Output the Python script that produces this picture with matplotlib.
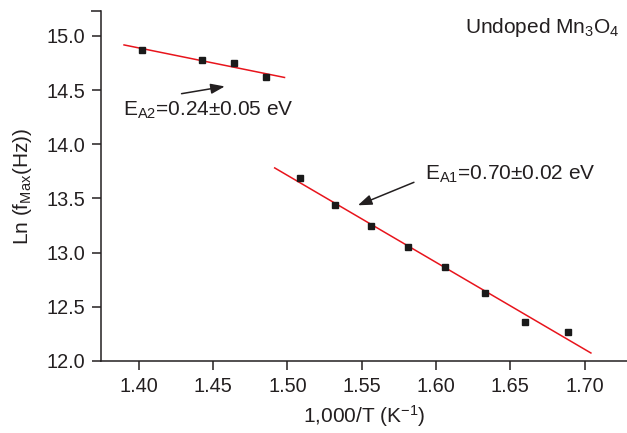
import numpy as np
import matplotlib
matplotlib.use("Agg")
import matplotlib.pyplot as plt

# Data
x_high = [1.4018, 1.4428, 1.4640, 1.4858]
y_high = [14.870, 14.778, 14.750, 14.618]
x_low = [1.5087, 1.5322, 1.5559, 1.5810, 1.6063, 1.6330, 1.6600, 1.6885]
y_low = [13.690, 13.437, 13.246, 13.048, 12.870, 12.632, 12.364, 12.271]
fit_high_range = [1.390, 1.498]
fit_low_range = [1.4914, 1.7042]
xticks = [1.40, 1.45, 1.50, 1.55, 1.60, 1.65, 1.70]
yticks = [12.0, 12.5, 13.0, 13.5, 14.0, 14.5, 15.0]

txt = '#231f20'
red = '#e8141c'
plt.rcParams['font.family'] = ['Liberation Sans', 'DejaVu Sans']
plt.rcParams['mathtext.fontset'] = 'custom'
plt.rcParams['mathtext.rm'] = 'Liberation Sans'
plt.rcParams['mathtext.it'] = 'Liberation Sans'
plt.rcParams['mathtext.default'] = 'regular'

fig = plt.figure(figsize=(6.27, 4.33), dpi=100)
ax = fig.add_axes([101/627, 72/433, 526/627, 350/433])

ax.set_xlim(1.3745, 1.7285)
ax.set_ylim(12.0, 15.23)

for xs, ys, rng in [(x_high, y_high, fit_high_range), (x_low, y_low, fit_low_range)]:
    p = np.polyfit(xs, ys, 1)
    xr = np.array(rng)
    ax.plot(xr, np.polyval(p, xr), color=red, lw=1.1, zorder=2)
    ax.plot(xs, ys, 's', color='#1a1a1a', ms=4.5, zorder=3)

ax.set_xticks(xticks)
ax.set_xticklabels([f"{v:.2f}" for v in xticks])
ax.set_yticks(yticks)
ax.set_yticklabels([f"{v:.1f}" for v in yticks])
ax.set_yticks([15.23], minor=True)
ax.tick_params(axis='y', which='minor', length=7, width=1.1, color=txt)
ax.tick_params(axis='both', which='major', direction='out', length=6.5, width=1.1,
               labelsize=14.3, colors=txt, pad=5)
for s in ['top', 'right']:
    ax.spines[s].set_visible(False)
for s in ['left', 'bottom']:
    ax.spines[s].set_linewidth(1.1)
    ax.spines[s].set_color(txt)

ax.set_xlabel('1,000/T (K$^{\u22121}$)', fontsize=15, color=txt, labelpad=5)
ax.set_ylabel('Ln (f$_{Max}$(Hz))', fontsize=15, color=txt, labelpad=9)

ax.text(1.3892, 14.263, 'E$_{A2}$=0.24\u00b10.05 eV', fontsize=15, color=txt, va='baseline', ha='left')
ax.text(1.5927, 13.674, 'E$_{A1}$=0.70\u00b10.02 eV', fontsize=15, color=txt, va='baseline', ha='left')
ax.text(1.7233, 15.031, 'Undoped Mn$_3$O$_4$', fontsize=15, color=txt, va='baseline', ha='right')

arrow = dict(arrowstyle='-|>,head_length=0.6,head_width=0.22', color=txt, lw=1.1,
             mutation_scale=14, shrinkA=0, shrinkB=0)
ax.annotate('', xy=(1.4578, 14.534), xytext=(1.4287, 14.467), arrowprops=arrow)
ax.annotate('', xy=(1.5474, 13.437), xytext=(1.5851, 13.649), arrowprops=arrow)

fig.savefig('out.png', dpi=100)
